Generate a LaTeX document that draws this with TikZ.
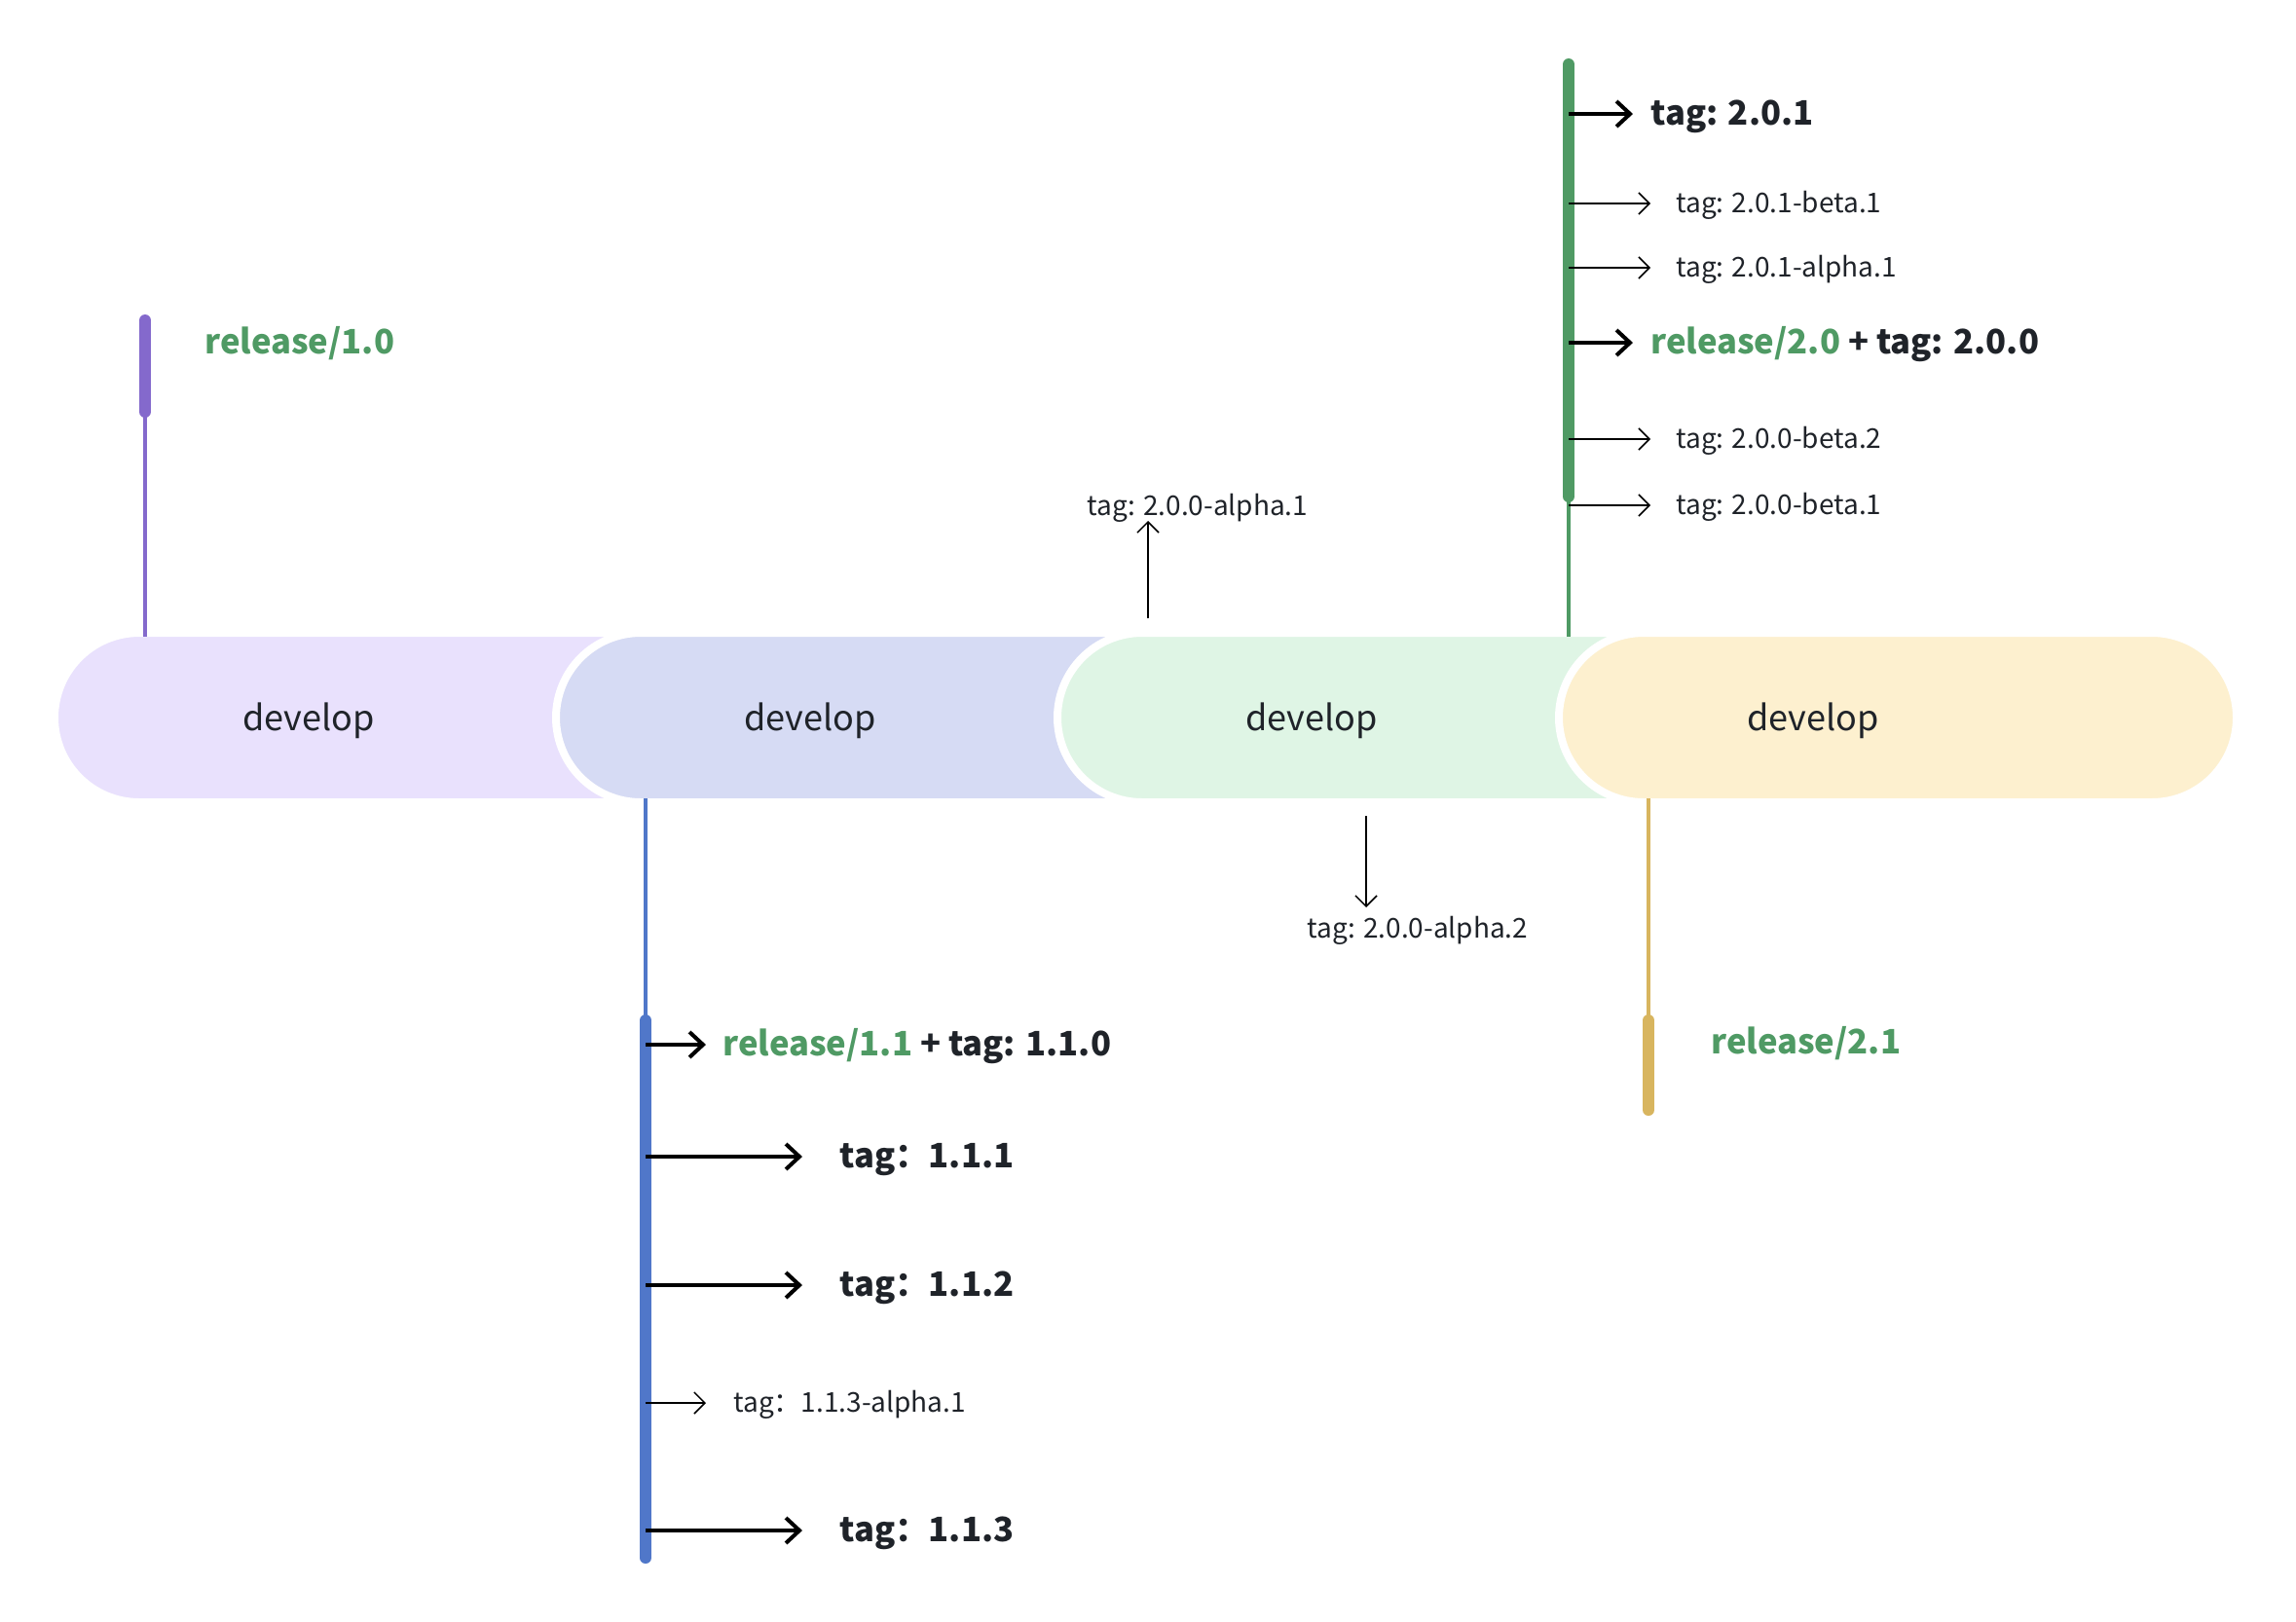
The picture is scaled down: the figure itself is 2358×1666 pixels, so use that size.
\documentclass[tikz,border=0pt]{standalone}
\usepackage{fontspec}
\setmainfont{Noto Sans CJK SC}
\usepackage{xcolor}
\usepackage{tikz}
\usetikzlibrary{arrows.meta, positioning}
\definecolor{ink}{HTML}{1F2329}
\definecolor{relgreen}{HTML}{4F9A64}
\definecolor{pillA}{HTML}{E9E1FD}
\definecolor{pillB}{HTML}{D6DBF4}
\definecolor{pillC}{HTML}{DFF5E5}
\definecolor{pillD}{HTML}{FDF0CF}
\definecolor{lineA}{HTML}{8469CC}
\definecolor{lineB}{HTML}{5077C9}
\definecolor{lineC}{HTML}{4F9A64}
\definecolor{lineD}{HTML}{D8B55F}
\tikzset{
    pill/.style={rectangle, draw=white, line width=4pt, rounded corners=43.5pt, minimum width=348pt, minimum height=87pt, inner sep=0pt, outer sep=0pt, anchor=west},
    devtext/.style={font=\fontsize{18}{22}\selectfont, text=ink, inner sep=0pt, yshift=-1.5pt},
    minortag/.style={font=\fontsize{14}{17}\selectfont, text=ink, anchor=west, inner sep=0pt, text height=0.68em, text depth=0.02em, yshift=-1.5pt},
    majortag/.style={font=\bfseries\fontsize{17.3}{21}\selectfont, text=ink, anchor=west, inner sep=0pt, text height=0.68em, text depth=0.02em, yshift=-2.5pt},
    relname/.style={majortag, text=relgreen},
    branch/.style={line width=2pt},
    branchbar/.style={line width=6pt, line cap=round},
    thickarrow/.style={line width=2pt, -{Straight Barb[length=7pt, width=13pt]}, color=black},
    thinarrow/.style={line width=0.75pt, -{Straight Barb[length=5.5pt, width=11pt]}, color=black}
}
\begin{document}
\begin{tikzpicture}[x=0.5pt, y=-0.5pt]
    \useasboundingbox (0,0) rectangle (2358,1666);

    % develop segments
    \node (devA) [pill, fill=pillA] at (56,737) {};
    \node (devB) [pill, fill=pillB] at (571,737) {};
    \node (devC) [pill, fill=pillC] at (1086,737) {};
    \node (devD) [pill, fill=pillD] at (1601,737) {};
    \node (devAtxt) [devtext] at ([xshift=130.5pt]devA.west) {develop};
    \node (devBtxt) [devtext] at ([xshift=130.5pt]devB.west) {develop};
    \node (devCtxt) [devtext] at ([xshift=130.5pt]devC.west) {develop};
    \node (devDtxt) [devtext] at ([xshift=130.5pt]devD.west) {develop};

    % release/1.0
    \coordinate (relAtop) at (149,329);
    \coordinate (relAend) at (149,423);
    \draw [branch, lineA] (relAend) -- ([yshift=-2pt]devA.north -| relAend);
    \draw [branchbar, lineA] (relAtop) -- (relAend);
    \node (relA) [relname] at (210,352) {release/1.0};

    % release/1.1
    \coordinate (relBtop) at (663,1048);
    \coordinate (relBend) at (663,1600);
    \draw [branch, lineB] ([yshift=2pt]devB.south -| relBtop) -- (relBtop);
    \draw [branchbar, lineB] (relBtop) -- (relBend);
    \node (relB) [majortag] at (742,1073) {\textcolor{relgreen}{release/1.1} + tag: 1.1.0};
    \node (tagBa) [majortag] at (862,1188) {tag：1.1.1};
    \node (tagBb) [majortag] at (862,1320) {tag：1.1.2};
    \node (tagBc) [minortag] at (753,1441) {tag：1.1.3-alpha.1};
    \node (tagBd) [majortag] at (862,1572) {tag：1.1.3};
    \draw [thickarrow] (663,1073) -- ++(62,0);
    \draw [thickarrow] (663,1188) -- ++(161,0);
    \draw [thickarrow] (663,1320) -- ++(161,0);
    \draw [thinarrow] (663,1441) -- ++(62,0);
    \draw [thickarrow] (663,1572) -- ++(161,0);

    % release/2.0
    \coordinate (relCtop) at (1611,66);
    \coordinate (relCend) at (1611,510);
    \draw [branch, lineC] (relCend) -- ([yshift=-2pt]devC.north -| relCend);
    \draw [branchbar, lineC] (relCtop) -- (relCend);
    \node (tagCa) [majortag] at (1695,117) {tag: 2.0.1};
    \node (tagCb) [minortag] at (1721,209) {tag: 2.0.1-beta.1};
    \node (tagCc) [minortag] at (1721,275) {tag: 2.0.1-alpha.1};
    \node (relC) [majortag] at (1695,352) {\textcolor{relgreen}{release/2.0} + tag: 2.0.0};
    \node (tagCd) [minortag] at (1721,451) {tag: 2.0.0-beta.2};
    \node (tagCe) [minortag] at (1721,519) {tag: 2.0.0-beta.1};
    \draw [thickarrow] (1611,117) -- ++(66,0);
    \draw [thinarrow] (1611,209) -- ++(84,0);
    \draw [thinarrow] (1611,275) -- ++(84,0);
    \draw [thickarrow] (1611,352) -- ++(66,0);
    \draw [thinarrow] (1611,451) -- ++(84,0);
    \draw [thinarrow] (1611,519) -- ++(84,0);

    % alpha tags on develop
    \node (alphaA) [minortag, anchor=center] at (1230,520) {tag: 2.0.0-alpha.1};
    \node (alphaB) [minortag, anchor=center] at (1456,954) {tag: 2.0.0-alpha.2};
    \coordinate (alphaAfoot) at (1179,635);
    \coordinate (alphaBfoot) at (1403,838);
    \draw [thinarrow] (alphaAfoot) -- (alphaAfoot |- 0,535);
    \draw [thinarrow] (alphaBfoot) -- (alphaBfoot |- 0,932);

    % release/2.1
    \coordinate (relDtop) at (1693,1048);
    \coordinate (relDend) at (1693,1140);
    \draw [branch, lineD] ([yshift=2pt]devD.south -| relDtop) -- (relDtop);
    \draw [branchbar, lineD] (relDtop) -- (relDend);
    \node (relD) [relname] at (1757,1071) {release/2.1};
\end{tikzpicture}
\end{document}
